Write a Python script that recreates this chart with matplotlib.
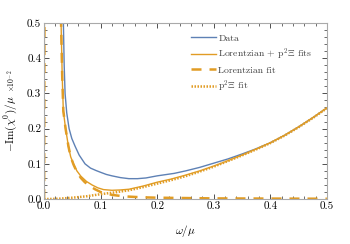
import matplotlib
matplotlib.use("Agg")
import matplotlib.pyplot as plt
from matplotlib.ticker import MultipleLocator, FormatStrFormatter

plt.rcParams['font.family'] = 'serif'
plt.rcParams['font.serif'] = ['cmr10']
plt.rcParams['mathtext.fontset'] = 'cm'
plt.rcParams['axes.formatter.use_mathtext'] = True

# valeurs
w_data = [0.031, 0.0341, 0.0355, 0.0371, 0.040, 0.0442, 0.049, 0.0548, 0.062, 0.0724,
          0.082, 0.092, 0.10, 0.11, 0.12, 0.135, 0.15, 0.165, 0.18, 0.20, 0.23, 0.25,
          0.275, 0.30, 0.325, 0.35, 0.375, 0.40, 0.425, 0.45, 0.475, 0.50]
y_data = [0.65, 0.50, 0.38, 0.30, 0.245, 0.20, 0.172, 0.15, 0.125, 0.10,
          0.088, 0.081, 0.076, 0.070, 0.066, 0.061, 0.058, 0.058, 0.060, 0.066, 0.073, 0.080,
          0.090, 0.102, 0.114, 0.128, 0.143, 0.160, 0.181, 0.205, 0.231, 0.259]

w_tot = [0.0, 0.001, 0.030, 0.032, 0.034, 0.038, 0.043, 0.047, 0.052, 0.058, 0.065,
         0.075, 0.085, 0.095, 0.105, 0.12, 0.135, 0.15, 0.175, 0.20, 0.225, 0.25,
         0.275, 0.30, 0.325, 0.35, 0.375, 0.40, 0.425, 0.45, 0.475, 0.50]
y_tot = [0.0, 0.90, 0.50, 0.35, 0.25, 0.20, 0.15, 0.12, 0.10, 0.08, 0.065,
         0.050, 0.040, 0.032, 0.027, 0.025, 0.026, 0.028, 0.037, 0.048, 0.057, 0.068,
         0.080, 0.094, 0.109, 0.125, 0.142, 0.160, 0.181, 0.205, 0.231, 0.259]

w_lor = [0.0, 0.001, 0.030, 0.032, 0.034, 0.038, 0.043, 0.047, 0.052, 0.058, 0.065,
         0.072, 0.080, 0.090, 0.10, 0.11, 0.12, 0.135, 0.15, 0.175, 0.20, 0.25, 0.30,
         0.40, 0.50]
y_lor = [0.0, 0.90, 0.50, 0.35, 0.25, 0.20, 0.15, 0.12, 0.098, 0.077, 0.060,
         0.048, 0.038, 0.028, 0.020, 0.016, 0.012, 0.009, 0.007, 0.005, 0.004, 0.003, 0.002,
         0.0015, 0.001]

w_p2 = [0.0, 0.025, 0.05, 0.075, 0.10, 0.125, 0.15, 0.175, 0.20, 0.225, 0.25, 0.275,
        0.30, 0.325, 0.35, 0.375, 0.40, 0.425, 0.45, 0.475, 0.50]
y_p2 = [0.0, 0.001, 0.004, 0.008, 0.014, 0.019, 0.025, 0.034, 0.044, 0.054, 0.065, 0.078,
        0.092, 0.108, 0.124, 0.141, 0.159, 0.180, 0.204, 0.230, 0.258]

bleu = '#5E81B5'
orange = '#E19C24'

fig = plt.figure(figsize=(3.5, 2.44), dpi=100)
ax = fig.add_axes([0.126, 0.184, 0.808, 0.722])

ax.plot(w_data, y_data, color=bleu, lw=1.0, label='Data')
ax.plot(w_tot, y_tot, color=orange, lw=1.0, label=r'Lorentzian + p$^2\Xi$ fits')
ax.plot(w_lor, y_lor, color=orange, lw=1.8, ls=(0, (4, 3.2)), label='Lorentzian fit')
ax.plot(w_p2, y_p2, color=orange, lw=1.8, ls=(0, (0.6, 0.6)), label=r'p$^2\Xi$ fit')

ax.set_xlim(0, 0.5)
ax.set_ylim(0, 0.5)
ax.xaxis.set_major_locator(MultipleLocator(0.1))
ax.yaxis.set_major_locator(MultipleLocator(0.1))
ax.xaxis.set_minor_locator(MultipleLocator(0.02))
ax.yaxis.set_minor_locator(MultipleLocator(0.02))
ax.xaxis.set_major_formatter(FormatStrFormatter('%.1f'))
ax.yaxis.set_major_formatter(FormatStrFormatter('%.1f'))
ax.tick_params(which='both', direction='in', top=True, right=True, color='#333333',
               labelsize=8, pad=2)
ax.tick_params(which='major', length=3.5, width=0.6)
ax.tick_params(which='minor', length=2, width=0.5)
for s in ax.spines.values():
    s.set_color('#aaaaaa')
    s.set_linewidth(0.8)

ax.set_xlabel(r'$\omega/\mu$', fontsize=8, labelpad=8)

# label y en deux morceaux (le facteur x10^-2 plus petit)
ylab = fig.text(11 / 350, 1 - 152 / 244, r'$-\mathrm{Im}(\chi^0)/\mu$', fontsize=8,
                rotation=90, ha='center', va='bottom')
fig.canvas.draw()
bb = ylab.get_window_extent()
fig.text(12 / 350, (bb.y1 + 3) / 244, r'$\times 10^{-2}$', fontsize=5.5,
         rotation=90, ha='center', va='bottom')

leg = ax.legend(loc='upper left', bbox_to_anchor=(191 / 350, 1 - 34 / 244),
                bbox_transform=fig.transFigure, frameon=False, fontsize=7,
                handlelength=2.6, handletextpad=0.2, labelspacing=0.38,
                borderpad=0, borderaxespad=0)
for t in leg.get_texts():
    t.set_color('#444444')

fig.savefig('out.png', dpi=100)
